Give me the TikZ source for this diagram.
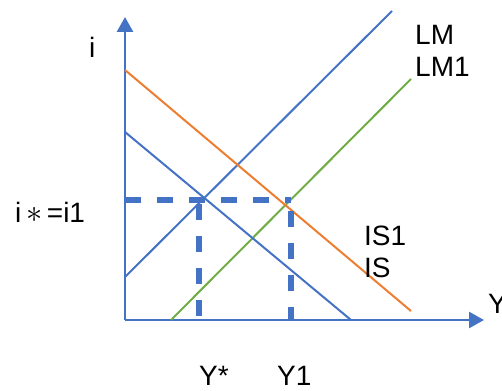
\documentclass[tikz,border=0pt]{standalone}
\usepackage{fontspec}
\setmainfont{Liberation Sans}
\usetikzlibrary{arrows.meta}

\definecolor{axisblue}{HTML}{4472C4}
\definecolor{isorange}{HTML}{ED7D31}
\definecolor{lmgreen}{HTML}{70AD47}

\begin{document}
\begin{tikzpicture}[
  x=1pt, y=-1pt,
  font=\fontsize{28}{30}\selectfont,
  axis/.style={draw=axisblue, line width=2.6pt, -{Triangle[length=15pt,width=16pt]}},
  curve/.style={line width=2pt},
  guide/.style={draw=axisblue, line width=5.5pt, dash pattern=on 16pt off 16pt},
  every node/.style={inner sep=0pt, anchor=base west}
]
\useasboundingbox (0,0) rectangle (502,390);
% axes
\coordinate (O) at (125,320);
\coordinate (ytip) at (125,17);
\coordinate (xtip) at (484,320);
\draw[axis] (O) -- (ytip);
\draw[axis] (O) -- (xtip);
% curves
\coordinate (lm0) at (125,277);  \coordinate (lm1) at (392,11);
\coordinate (lmg0) at (171,320); \coordinate (lmg1) at (411,79);
\coordinate (iso0) at (125,70);  \coordinate (iso1) at (411,311);
\coordinate (is0) at (125,132);  \coordinate (is1) at (351,320);
\draw[curve, axisblue] (lm0) -- (lm1);
\draw[curve, lmgreen] (lmg0) -- (lmg1);
\draw[curve, isorange] (iso0) -- (iso1);
\draw[curve, axisblue] (is0) -- (is1);
% guides
\coordinate (ia) at (125,200); \coordinate (ib) at (291,200);
\coordinate (ya) at (199,204); \coordinate (yb) at (199,320);
\coordinate (y1a) at (291,211); \coordinate (y1b) at (291,320);
\draw[guide] (ia) -- (ib);
\draw[guide] (ya) -- (yb);
\draw[guide] (y1a) -- (y1b);
% labels
\node (ilab) at (89,58) {i};
\node (lmlab) at (415,45) {LM};
\node (lm1lab) at (415,77) {LM1};
\node (is1lab) at (364,245) {IS1};
\node (islab) at (364,277) {IS};
\node (ylab) at (488,313) {Y};
\node (ystar) at (199,385) {Y*};
\node (yone) at (277,385) {Y1};
\node (istar) at (15,222) {i\,\scalebox{1.3}{$\ast$}\,=i1};
\end{tikzpicture}
\end{document}
